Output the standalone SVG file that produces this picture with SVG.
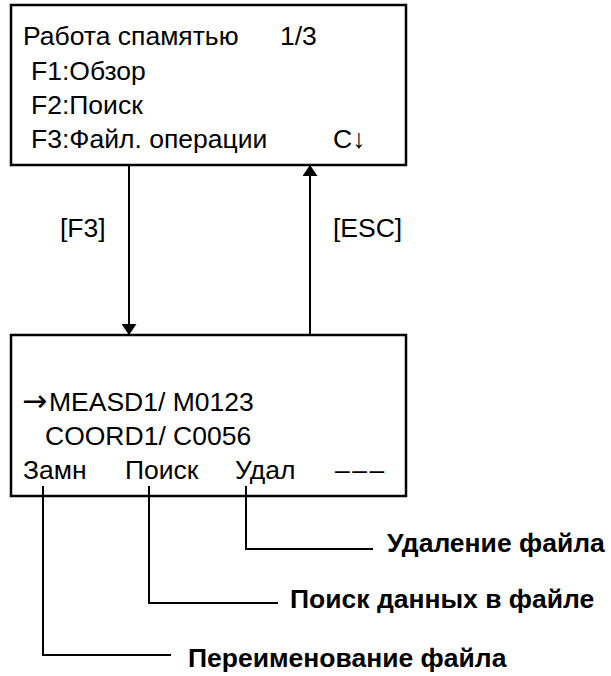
<svg xmlns="http://www.w3.org/2000/svg" width="611" height="676" viewBox="0 0 611 676">
<style>
.box{fill:#fff;stroke:#000;stroke-width:2.5}
.t{font-family:"Liberation Sans",Arial,sans-serif;font-size:26.5px;fill:#000}
.b{font-family:"Liberation Sans",Arial,sans-serif;font-size:26.5px;font-weight:bold;fill:#000}
.ln{fill:none;stroke:#000;stroke-width:2}
.sym{font-family:"DejaVu Sans",sans-serif;font-size:30px}
</style>
<defs>
<marker id="ah" markerWidth="11" markerHeight="15" refX="11" refY="7.5" orient="auto" markerUnits="userSpaceOnUse">
<path d="M0,0 L11,7.5 L0,15 Z" fill="#000"/>
</marker>
</defs>
<rect width="611" height="676" fill="#fff"/>
<g id="screen1">
<rect class="box" x="11" y="5" width="395" height="160"/>
<text class="t" x="23" y="45">Работа спамятью</text>
<text class="t" x="280" y="45">1/3</text>
<text class="t" x="31" y="80">F1:Обзор</text>
<text class="t" x="31" y="114">F2:Поиск</text>
<text class="t" x="31" y="148">F3:Файл. операции</text>
<text class="t" x="333" y="148">C↓</text>
</g>
<g id="screen2">
<rect class="box" x="11" y="335" width="395" height="161"/>
<text class="t" x="22" y="411"><tspan class="sym">→</tspan><tspan x="49">MEASD1/ M0123</tspan></text>
<text class="t" x="45" y="445">COORD1/ C0056</text>
<text class="t" x="23" y="479">Замн</text>
<text class="t" x="125" y="479">Поиск</text>
<text class="t" x="235" y="479">Удал</text>
<text class="t" x="335" y="479" letter-spacing="2.5">–––</text>
</g>
<g id="connectors">
<line class="ln" x1="129" y1="165" x2="129" y2="335" marker-end="url(#ah)"/>
<line class="ln" x1="310" y1="335" x2="310" y2="165" marker-end="url(#ah)"/>
<text class="t" x="60" y="237">[F3]</text>
<text class="t" x="333" y="237">[ESC]</text>
<polyline class="ln" points="246,486 246,549 373,549"/>
<polyline class="ln" points="149,486 149,603 278,603"/>
<polyline class="ln" points="43,486 43,655 171,655"/>
</g>
<g id="labels">
<text class="b" x="387" y="552">Удаление файла</text>
<text class="b" x="290" y="608">Поиск данных в файле</text>
<text class="b" x="188" y="667">Переименование файла</text>
</g>
</svg>
